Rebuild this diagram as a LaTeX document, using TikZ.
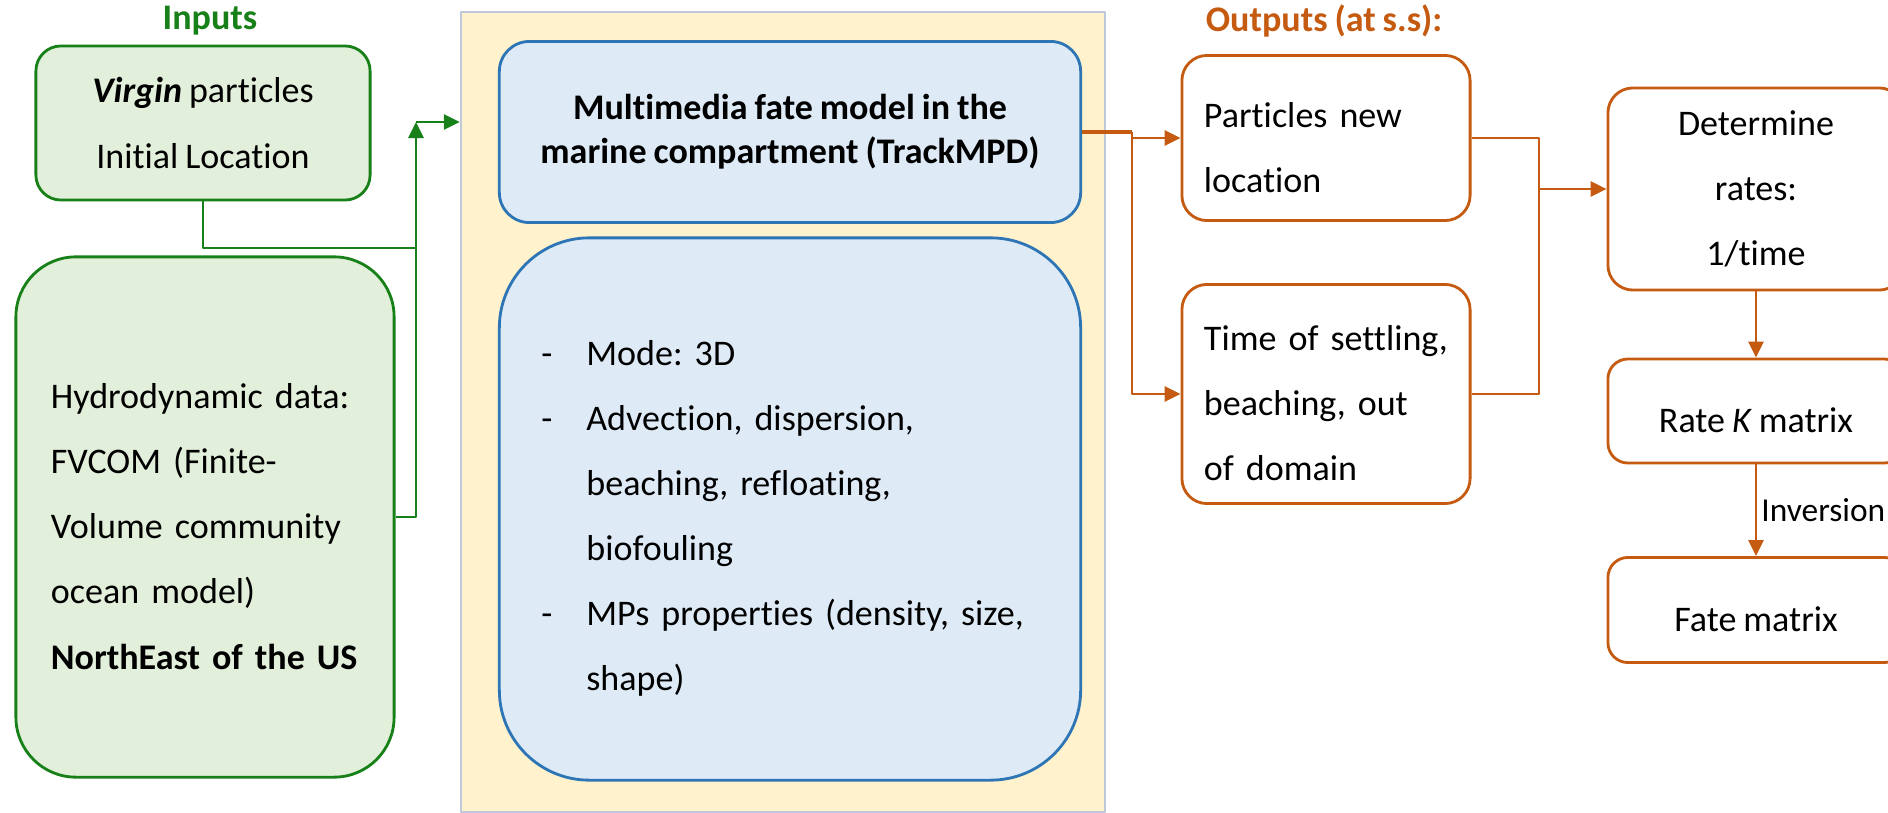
\documentclass[tikz,border=0pt]{standalone}
\usepackage{fontspec}
\setmainfont{Carlito}[Ligatures=NoCommon, WordSpace=0.85]
\frenchspacing
\usetikzlibrary{arrows.meta}
\definecolor{ingreen}{RGB}{24,128,24}
\definecolor{infill}{RGB}{226,239,218}
\definecolor{modblue}{RGB}{46,117,182}
\definecolor{modfill}{RGB}{222,235,247}
\definecolor{panelfill}{RGB}{255,242,204}
\definecolor{panelline}{RGB}{190,200,216}
\definecolor{outorange}{RGB}{197,90,17}
\begin{document}
\begin{tikzpicture}[font=\fontsize{10.25}{18.5}\selectfont, line join=round, >={Triangle[length=0.16cm,width=0.15cm]}, x=0.01cm, y=-0.01cm,
  boxtext/.style={execute at begin node={\rule{0pt}{0.44cm}}},
  inbox/.style={boxtext, draw=ingreen, fill=infill, line width=0.8pt, rounded corners=0.25cm},
  modbox/.style={boxtext, draw=modblue, fill=modfill, line width=0.8pt},
  outbox/.style={boxtext, draw=outorange, line width=0.8pt, rounded corners=0.25cm},
  gline/.style={draw=ingreen, line width=0.8pt},
  oline/.style={draw=outorange, line width=0.8pt},
  headtext/.style={font=\fontsize{10.25}{12}\selectfont\bfseries}]
\useasboundingbox (0,0) rectangle (1888,812);
% inputs
\node[headtext, text=ingreen] (intitle) at (210,21) {Inputs};
\node[inbox, execute at begin node={\rule{0pt}{0.62cm}}, minimum width=3.34cm, minimum height=1.54cm, align=center] (virgin) at (203,123) {\textbf{\textit{Virgin}} particles\\Initial Location};
\node[inbox, rounded corners=0.6cm, minimum width=3.78cm, minimum height=5.2cm, text width=3.08cm, inner xsep=0.35cm, align=left] (hydro) at (205,517) {Hydrodynamic data:\\FVCOM (Finite-\\Volume community\\ocean model)\\\textbf{NorthEast of the US}};
% model
\node[draw=panelline, fill=panelfill, line width=0.6pt, minimum width=6.44cm, minimum height=8.0cm, inner sep=0] (panel) at (783,412) {};
\node[modbox, rounded corners=0.3cm, minimum width=5.81cm, minimum height=1.81cm, align=center, font=\fontsize{10.25}{12.5}\selectfont\bfseries] (trackmpd) at (790,132) {Multimedia fate model in the\\marine compartment (TrackMPD)};
\node[modbox, rounded corners=0.9cm, minimum width=5.81cm, minimum height=5.42cm, text width=4.97cm, inner xsep=0.42cm, align=left] (params) at (790,509) {\makebox[0.45cm][l]{-}Mode: 3D\\
\makebox[0.45cm][l]{-}Advection, dispersion,\\
\hspace*{0.45cm}beaching, refloating,\\
\hspace*{0.45cm}biofouling\\
\makebox[0.45cm][l]{-}MPs properties (density, size,\\
\hspace*{0.45cm}shape)};
% outputs
\node[headtext, text=outorange] (outtitle) at (1324,21) {Outputs (at s.s):};
\node[outbox, minimum width=2.88cm, minimum height=1.65cm, text width=2.44cm, inner xsep=0.22cm, align=left] (newloc) at (1326,138) {Particles new\\location};
\node[outbox, minimum width=2.88cm, minimum height=2.19cm, text width=2.44cm, inner xsep=0.22cm, align=left] (settle) at (1326,394) {Time of settling,\\beaching, out\\of domain};
\node[outbox, minimum width=2.96cm, minimum height=2.02cm, align=center] (rates) at (1756,189) {Determine\\rates:\\1/time};
\node[outbox, rounded corners=0.2cm, minimum width=2.96cm, minimum height=1.04cm] (ratek) at (1756,411) {Rate \textit{K} matrix};
\node[outbox, rounded corners=0.2cm, minimum width=2.96cm, minimum height=1.05cm] (fatem) at (1756,610) {Fate matrix};
% green connectors
\coordinate (gjoin) at (416,122);
\coordinate (gmerge) at (416,248);
\draw[gline,->] (hydro.east) -| (gjoin);
\draw[gline,->] (gjoin) -- (gjoin -| panel.west);
\draw[gline] (virgin.south) |- (gmerge);
% orange connectors
\coordinate (osplit) at (1132,132);
\coordinate (ojoin) at (1539,189);
\draw[oline, line width=1.4pt] (trackmpd.east) -- (osplit);
\draw[oline,->] (osplit) |- (newloc.west);
\draw[oline,->] (osplit) |- (settle.west);
\draw[oline] (newloc.east) -| (ojoin);
\draw[oline] (settle.east) -| (ojoin);
\draw[oline,->] (ojoin) -- (rates.west);
\draw[oline,->] (rates.south) -- (ratek.north);
\draw[oline,->] (ratek.south) -- node[right, inner xsep=0.04cm, font=\fontsize{9.5}{11}\selectfont] {Inversion} (fatem.north);
\end{tikzpicture}
\end{document}
